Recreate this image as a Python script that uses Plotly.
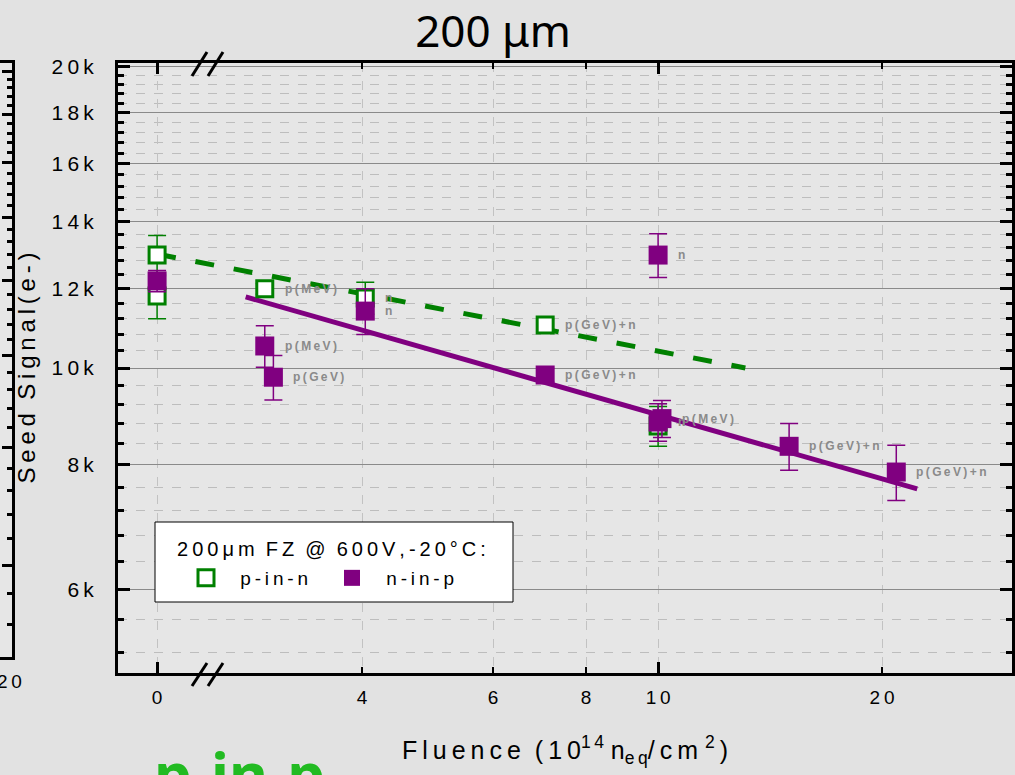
import numpy as np
import plotly.graph_objects as go

# ---------------- data ----------------
ZERO_POS = 2.121  # where fluence "0" sits on the broken (log) x axis

pinn_fluence = [0, 0, 2.96, 4.04, 7.05, 10.0]
pinn_signal = [12970, 11800, 12000, 11750, 11040, 8750]
pinn_err = [600, 600, 150, 430, 150, 400]
pinn_labels = ["", "", "p(MeV)", "n", "p(GeV)+n", ""]

ninp_fluence = [0, 2.96, 3.04, 4.04, 7.05, 10.0, 10.0, 10.12, 15.0, 20.9]
ninp_signal = [12220, 10520, 9790, 11400, 9840, 12970, 8830, 8900, 8350, 7870]
ninp_err = [300, 500, 500, 600, 150, 650, 380, 380, 450, 500]
ninp_labels = ["", "p(MeV)", "p(GeV)", "n", "p(GeV)+n", "n", "n", "p(MeV)",
               "p(GeV)+n", "p(GeV)+n"]

pinn_fit_fluence = [0, 13.1]
pinn_fit_signal = [13000, 10000]
ninp_fit_fluence = [2.79, 22.3]
ninp_fit_signal = [11780, 7570]

x_tick_values = [0, 4, 6, 8, 10, 20]
y_major_ticks = [6000, 8000, 10000, 12000, 14000, 16000, 18000, 20000]
y_minor_ticks = [v for v in range(5200, 20001, 400) if v % 2000 != 0]

legend_title = "200μm FZ @ 600V,-20°C:"
series_names = ["p-in-n", "n-in-p"]

GREEN = "#008000"
PURPLE = "#800080"
FONT = "Liberation Sans, Arial, sans-serif"
THIN = "\u2009"


def pos(f):
    return ZERO_POS if f == 0 else f


def spaced(s, sep=THIN):
    return sep.join(list(s))


def spaced_words(s):
    return "  ".join(spaced(w) for w in s.split(" "))


W, H = 1015, 775
L_AX, R_AX, T_AX, B_AX = 118, 1012, 63, 673
PW = R_AX  # plot area width (margin l = 0)
PH = B_AX - T_AX


def px_x(p):
    return p / PW


def px_y(p):
    return (B_AX - p) / PH


fig = go.Figure()

# fit lines
fig.add_trace(go.Scatter(
    x=[pos(f) for f in pinn_fit_fluence], y=pinn_fit_signal, mode="lines",
    line=dict(color=GREEN, width=5, dash="19px,20px"), showlegend=False,
    hoverinfo="skip"))
fig.add_trace(go.Scatter(
    x=[pos(f) for f in ninp_fit_fluence], y=ninp_fit_signal, mode="lines",
    line=dict(color=PURPLE, width=5), showlegend=False, hoverinfo="skip"))

# data points
fig.add_trace(go.Scatter(
    x=[pos(f) for f in pinn_fluence], y=pinn_signal, mode="markers",
    name="  " + THIN + spaced(series_names[0]),
    marker=dict(symbol="square", size=16, color="white",
                line=dict(color=GREEN, width=3)),
    error_y=dict(type="data", array=pinn_err, color=GREEN, thickness=1.5, width=9)))
fig.add_trace(go.Scatter(
    x=[pos(f) for f in ninp_fluence], y=ninp_signal, mode="markers",
    name="  " + THIN + spaced(series_names[1]),
    marker=dict(symbol="square", size=19, color=PURPLE,
                line=dict(color=PURPLE, width=0)),
    error_y=dict(type="data", array=ninp_err, color=PURPLE, thickness=1.5, width=9)))

# invisible trace for the cut-off neighbouring panel on the left
fig.add_trace(go.Scatter(x=[0.5], y=[10000], xaxis="x2", yaxis="y2",
                         mode="markers", marker=dict(opacity=0),
                         showlegend=False, hoverinfo="skip"))

annotations = []
for fl, sig, lab in list(zip(pinn_fluence, pinn_signal, pinn_labels)) + \
        list(zip(ninp_fluence, ninp_signal, ninp_labels)):
    if not lab:
        continue
    annotations.append(dict(
        x=np.log10(pos(fl)), y=np.log10(sig), xref="x", yref="y",
        text="<b>" + spaced(lab) + "</b>", showarrow=False,
        xanchor="left", yanchor="middle", xshift=18,
        font=dict(family=FONT, size=12, color="#8a8a8a")))

# legend title (the legend box is drawn as a shape behind the legend)
annotations.append(dict(
    x=px_x(331), y=px_y(549), xref="paper", yref="paper", xanchor="center",
    yanchor="middle", text=spaced_words(legend_title), showarrow=False,
    font=dict(family=FONT, size=20, color="black")))

# big green slide caption, cut by the bottom edge
annotations.append(dict(
    x=px_x(152), y=px_y(730), xref="paper", yref="paper", xanchor="left",
    yanchor="top", text="<b>p-in-p</b>", showarrow=False,
    font=dict(family="Noto Sans, Open Sans, sans-serif", size=60, color="#22bb22")))

# tick label of the neighbouring panel
annotations.append(dict(
    x=px_x(9), y=px_y(681), xref="paper", yref="paper", xanchor="center",
    yanchor="middle", text=spaced("20"), showarrow=False,
    font=dict(family=FONT, size=19, color="black")))

shapes = []
# axis-break marks "//" on top and bottom frame
for (y_lo, y_hi) in [(76, 52), (686, 663)]:
    for x_lo in (192, 208):
        shapes.append(dict(type="line", xref="paper", yref="paper",
                           x0=px_x(x_lo), y0=px_y(y_lo),
                           x1=px_x(x_lo + 15), y1=px_y(y_hi),
                           line=dict(color="black", width=3)))
# legend box
shapes.append(dict(type="rect", xref="paper", yref="paper", layer="above",
                   x0=px_x(155), x1=px_x(513), y0=px_y(602), y1=px_y(522),
                   fillcolor="white", line=dict(color="black", width=1)))

fig.update_layout(
    width=W, height=H,
    margin=dict(l=0, r=W - R_AX, t=T_AX, b=H - B_AX),
    paper_bgcolor="#e2e2e2", plot_bgcolor="#e6e6e6",
    title=dict(text="200 μm", x=493 / W, y=1 - 32 / H, xref="container",
               yref="container", xanchor="center", yanchor="middle",
               font=dict(family="Noto Sans, Open Sans, sans-serif", size=44,
                         color="black")),
    xaxis=dict(
        type="log", domain=[L_AX / PW, 1],
        range=[0.274, 1.4757],
        tickmode="array", tickvals=[pos(v) for v in x_tick_values],
        ticktext=[spaced(str(v)) for v in x_tick_values],
        ticks="inside", ticklen=6, tickwidth=2, tickcolor="black",
        ticklabelstandoff=5,
        tickfont=dict(family=FONT, size=19, color="black"),
        showgrid=True, gridcolor="#c2c2c2", griddash="dash", gridwidth=1,
        minor=dict(tickmode="array", tickvals=[ZERO_POS, 10], ticks="inside",
                   ticklen=11, tickwidth=3, tickcolor="black",
                   showgrid=True, gridcolor="#8a8a8a", gridwidth=1.2),
        showline=True, linecolor="black", linewidth=3, mirror="allticks",
        zeroline=False, automargin=False,
        title=dict(text=spaced("Fluence") + "  " + spaced("(10") +
                   "<sup>" + spaced("14") + "</sup> " + "n<sub>" + spaced("eq") +
                   "</sub>" + spaced("/cm") + " <sup>2</sup>" + THIN + ")",
                   standoff=35,
                   font=dict(family=FONT, size=25, color="black")),
    ),
    yaxis=dict(
        type="log", range=[3.695, 4.305],
        tickmode="array", tickvals=y_major_ticks,
        ticktext=[spaced(f"{v // 1000}k") for v in y_major_ticks],
        ticks="inside", ticklen=12, tickwidth=3, tickcolor="black",
        ticklabelstandoff=17,
        tickfont=dict(family=FONT, size=21, color="black"),
        showgrid=True, gridcolor="#8a8a8a", gridwidth=1.3,
        minor=dict(tickmode="array", tickvals=y_minor_ticks, ticks="inside",
                   ticklen=6, tickwidth=2.5, tickcolor="black",
                   showgrid=True, gridcolor="#bdbdbd", griddash="dash",
                   gridwidth=1),
        showline=True, linecolor="black", linewidth=3, mirror="allticks",
        zeroline=False, automargin=False,
        title=dict(text=spaced("Seed") + "  " + spaced("Signal") + THIN + spaced("(e-)"),
                   standoff=10,
                   font=dict(family=FONT, size=24, color="black")),
    ),
    xaxis2=dict(
        domain=[0, 12 / PW], anchor="y2", range=[0, 1],
        showticklabels=False, ticks="",
        showgrid=False, zeroline=False, showline=True, linecolor="black",
        linewidth=3, mirror=True, automargin=False,
    ),
    yaxis2=dict(
        domain=[px_y(657), 1], anchor="x2", side="right", type="log",
        range=[np.log10(4800), np.log10(20400)],
        tickmode="array", tickvals=y_major_ticks, showticklabels=False,
        ticks="inside", ticklen=10, tickwidth=2.5, tickcolor="black",
        minor=dict(tickmode="array", tickvals=y_minor_ticks, ticks="inside",
                   ticklen=5, tickwidth=2.5, tickcolor="black"),
        showgrid=False, zeroline=False, showline=True, linecolor="black",
        linewidth=3, automargin=False,
    ),
    legend=dict(
        x=px_x(186), y=px_y(559), xanchor="left", yanchor="top",
        orientation="h", bgcolor="rgba(0,0,0,0)", borderwidth=0,
        entrywidth=101, entrywidthmode="pixels", itemsizing="trace",
        font=dict(family=FONT, size=19, color="black"),
    ),
    annotations=annotations,
    shapes=shapes,
)

fig.write_html("out.html")
